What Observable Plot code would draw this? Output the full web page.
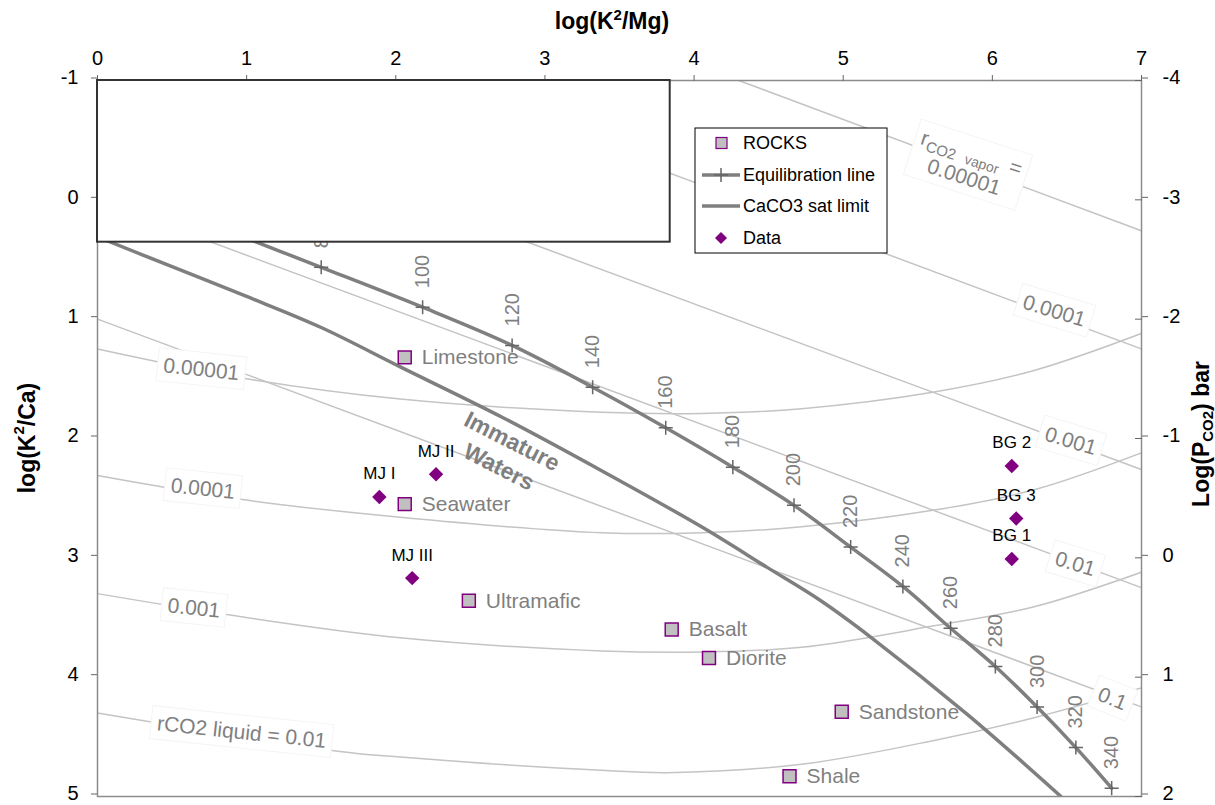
<!DOCTYPE html>
<html>
<head>
<meta charset="utf-8">
<script src="https://cdn.jsdelivr.net/npm/d3@7"></script>
<script src="https://cdn.jsdelivr.net/npm/@observablehq/plot@0.6"></script>
<style>
  body { margin: 0; background: #fff; }
  #chart { position: relative; width: 1215px; height: 805px; }
</style>
</head>
<body>
<div id="chart"></div>
<script>
// Axis ticks
const xTicks = [0, 1, 2, 3, 4, 5, 6, 7];
const yTicks = [-1, 0, 1, 2, 3, 4, 5];

// Reference rock compositions: log(K²/Mg), log(K²/Ca)
const rockNames = ["Limestone", "Seawater", "Ultramafic", "Basalt", "Diorite", "Sandstone", "Shale"];
const rockKMg = [2.06, 2.06, 2.49, 3.85, 4.10, 4.99, 4.64];
const rockKCa = [1.32, 2.55, 3.36, 3.60, 3.84, 4.29, 4.83];

// Measured water samples
const sampleNames = ["MJ I", "MJ II", "MJ III", "BG 2", "BG 3", "BG 1"];
const sampleKMg = [1.89, 2.27, 2.11, 6.13, 6.16, 6.13];
const sampleKCa = [2.49, 2.30, 3.17, 2.23, 2.67, 3.01];

// Full equilibration line, temperature (°C) marks
const eqTemps = [60, 80, 100, 120, 140, 160, 180, 200, 220, 240, 260, 280, 300, 320, 340];
const eqKMg = [0.85, 1.50, 2.18, 2.78, 3.32, 3.81, 4.26, 4.67, 5.05, 5.40, 5.72, 6.02, 6.30, 6.56, 6.80];
const eqKCa = [0.25, 0.565, 0.90, 1.22, 1.57, 1.91, 2.24, 2.56, 2.91, 3.24, 3.59, 3.91, 4.25, 4.59, 4.93];

// Calcite saturation limit
const caco3KMg = [0, 0.5, 1.0, 1.5, 2.03, 2.71, 3.38, 4.05, 4.49, 4.85, 5.19, 5.84, 6.46];
const caco3KCa = [0.31, 0.56, 0.81, 1.07, 1.40, 1.82, 2.27, 2.74, 3.08, 3.36, 3.67, 4.32, 5.0];

// CO2 vapour isolines
const vaporLevels = ["0.00001", "0.0001", "0.001", "0.01", "0.1"];
const vaporKMg = [[4.30, 7], [2.17, 7], [0, 7], [0, 7], [0, 7]];
const vaporKCa = [[-1, 0.26], [-1, 1.25], [-0.98, 2.26], [0.0, 3.25], [1.0, 4.25]];
const vaporLabelKMg = [5.84, 6.42, 6.53, 6.56, 6.81];
const vaporLabelKCa = [-0.29, 0.93, 2.02, 3.05, 4.18];

// CO2 liquid isolines
const liquidLevels = ["0.00001", "0.0001", "0.001", "0.01"];
const liquidKMg = [
  [0, 1.00, 2.03, 3.38, 4.05, 4.72, 5.61, 6.28, 7],
  [0, 0.96, 2.03, 3.38, 4.05, 4.72, 5.61, 6.28, 7],
  [0, 0.89, 2.03, 3.38, 4.05, 4.72, 5.61, 6.28, 7],
  [0, 1.61, 2.03, 3.38, 3.82, 4.72, 5.61, 6.28, 7]
];
const liquidKCa = [
  [1.25, 1.50, 1.67, 1.78, 1.79, 1.75, 1.61, 1.43, 1.12],
  [2.31, 2.51, 2.66, 2.79, 2.79, 2.74, 2.60, 2.43, 2.12],
  [3.30, 3.48, 3.67, 3.78, 3.79, 3.75, 3.57, 3.41, 3.12],
  [4.30, 4.62, 4.67, 4.78, 4.80, 4.73, 4.53, 4.34, 4.09]
];
const liquidLabelText = ["0.00001", "0.0001", "0.001", "rCO2 liquid = 0.01"];
const liquidLabelKMg = [0.70, 0.71, 0.65, 0.97];
const liquidLabelKCa = [1.42, 2.42, 3.42, 4.46];

// Field annotation
const regionText = ["Immature\nWaters"];
const regionKMg = [2.74];
const regionKCa = [2.12];

// Blank panel in the upper-left corner of the diagram
const blankPanelKMg = [0, 3.84];
const blankPanelKCa = [-1, 0.355];

// ---- tables for the marks ----
const rocks = rockNames.map((name, i) => ({name, kMg: rockKMg[i], kCa: rockKCa[i]}));
const samples = sampleNames.map((name, i) => ({name, kMg: sampleKMg[i], kCa: sampleKCa[i]}));
const eq = eqTemps.map((temp, i) => ({temp, kMg: eqKMg[i], kCa: eqKCa[i]}));
const caco3 = caco3KMg.map((kMg, i) => ({kMg, kCa: caco3KCa[i]}));
const vapor = vaporLevels.flatMap((level, i) => vaporKMg[i].map((kMg, j) => ({level, kMg, kCa: vaporKCa[i][j]})));
const liquid = liquidLevels.flatMap((level, i) => liquidKMg[i].map((kMg, j) => ({level, kMg, kCa: liquidKCa[i][j]})));
const region = regionText.map((text, i) => ({text, kMg: regionKMg[i], kCa: regionKCa[i]}));
const blankPanel = [{x1: blankPanelKMg[0], x2: blankPanelKMg[1], y1: blankPanelKCa[0], y2: blankPanelKCa[1]}];

const FONT = "'Liberation Sans', Arial, Helvetica, sans-serif";
const GREY = "#7f7f7f";
const LIGHT = "#c4c4c4";
const PURPLE = "#800080";

const chart = Plot.plot({
  width: 1215,
  height: 805,
  marginTop: 80,
  marginLeft: 97,
  marginRight: 74,
  marginBottom: 9,
  x: {domain: [0, 7]},
  y: {domain: [-1, 5], reverse: true},
  style: {fontFamily: FONT, fontSize: "20px", color: "#000", background: "#fff"},
  marks: [
    Plot.line(vapor, {x: "kMg", y: "kCa", z: "level", stroke: LIGHT, strokeWidth: 1.5, clip: true}),
    Plot.line(liquid, {x: "kMg", y: "kCa", z: "level", curve: "catmull-rom", stroke: LIGHT, strokeWidth: 1.5, clip: true}),
    Plot.line(caco3, {x: "kMg", y: "kCa", curve: "catmull-rom", stroke: GREY, strokeWidth: 3.5, clip: true}),
    Plot.line(eq, {x: "kMg", y: "kCa", curve: "catmull-rom", stroke: GREY, strokeWidth: 3.5}),
    Plot.dot(eq, {x: "kMg", y: "kCa", symbol: "plus", r: 4.6, stroke: "#666", strokeWidth: 1.5}),
    Plot.text(eq.filter(d => d.temp >= 80), {
      x: "kMg", y: "kCa", text: d => String(d.temp), rotate: -90, textAnchor: "start",
      dy: -19, fontSize: 20, fill: GREY
    }),
    Plot.text(region, {
      x: "kMg", y: "kCa", text: "text", rotate: 27, fontSize: 23, fontWeight: "bold",
      lineHeight: 1.25, fill: GREY
    }),
    Plot.dot(rocks, {x: "kMg", y: "kCa", symbol: "square", r: 7.3, fill: "#c0c0c0", stroke: PURPLE, strokeWidth: 1.5}),
    Plot.text(rocks, {x: "kMg", y: "kCa", text: "name", textAnchor: "start", dx: 17, fontSize: 21, fill: GREY}),
    Plot.dot(samples, {x: "kMg", y: "kCa", symbol: "diamond2", r: 6.5, fill: PURPLE, stroke: "none"}),
    Plot.text(samples, {x: "kMg", y: "kCa", text: "name", dy: -23, fontSize: 17, fill: "#000"}),
    Plot.frame({stroke: "#8c8c8c", strokeWidth: 1.5}),
    Plot.axisX({anchor: "top", ticks: xTicks, tickSize: 6, tickPadding: 10, label: null, stroke: "#666", tickFormat: d => String(d)}),
    Plot.axisY({anchor: "left", ticks: yTicks, tickSize: 6, tickPadding: 13, dy: -2.5, label: null, stroke: "#666", tickFormat: d => String(d)}),
    Plot.axisY({anchor: "right", ticks: yTicks, tickSize: 6, tickPadding: 15, dy: -2.5, label: null, stroke: "#666", tickFormat: d => String(d - 3)}),
    Plot.axisY({anchor: "right", ticks: yTicks, tickSize: -7, label: null, stroke: "#666", tickFormat: () => ""}),
    Plot.rect(blankPanel, {x1: "x1", x2: "x2", y1: "y1", y2: "y2", fill: "white", stroke: "#333", strokeWidth: 2})
  ]
});

document.getElementById("chart").appendChild(chart);

// ---- annotations placed through the chart's own scales ----
const xs = chart.scale("x"), ys = chart.scale("y");
const px = v => xs.apply(v), py = v => ys.apply(v);
const svg = d3.select(chart);

// Isoline label on a white box, rotated along the line
function boxedLabel(kMg, kCa, angle, build) {
  const g = svg.append("g").attr("transform", `translate(${px(kMg)},${py(kCa)}) rotate(${angle})`);
  const rect = g.append("rect");
  const tg = g.append("g").attr("font-family", FONT).attr("fill", "#808080");
  build(tg);
  const bb = tg.node().getBBox();
  rect.attr("x", bb.x - 6).attr("y", bb.y - 5).attr("width", bb.width + 12).attr("height", bb.height + 10)
    .attr("fill", "white").attr("stroke", "#f4f4f4").attr("stroke-width", 1);
}

const simple = s => tg => tg.append("text").attr("text-anchor", "middle").attr("dominant-baseline", "central")
  .attr("font-size", 21).text(s);

liquidLabelText.forEach((s, i) => boxedLabel(liquidLabelKMg[i], liquidLabelKCa[i], 6, simple(s)));

vaporLevels.forEach((s, i) => {
  if (i === 0) {
    boxedLabel(vaporLabelKMg[i], vaporLabelKCa[i], 18, tg => {
      const t1 = tg.append("text").attr("text-anchor", "middle").attr("y", -5).attr("font-size", 21);
      t1.append("tspan").text("r");
      t1.append("tspan").attr("font-size", 15).attr("dy", 5).text("CO2");
      t1.append("tspan").attr("font-size", 14).attr("dx", 10).text("vapor");
      t1.append("tspan").attr("dy", -5).attr("dx", 10).text("=");
      tg.append("text").attr("text-anchor", "middle").attr("y", 20).attr("font-size", 21).text(s);
    });
  } else {
    boxedLabel(vaporLabelKMg[i], vaporLabelKCa[i], i === 4 ? 22 : 17, simple(s));
  }
});

// Axis titles
const titles = svg.append("g").attr("font-family", FONT).attr("font-weight", "bold").attr("font-size", 23).attr("fill", "#000");
const titleTop = titles.append("text").attr("x", 612).attr("y", 29).attr("text-anchor", "middle");
titleTop.append("tspan").text("log(K");
titleTop.append("tspan").attr("font-size", 15).attr("dy", -9).text("2");
titleTop.append("tspan").attr("dy", 9).text("/Mg)");

const titleLeft = titles.append("text").attr("transform", "translate(27,438) rotate(-90)")
  .attr("text-anchor", "middle").attr("dominant-baseline", "central");
titleLeft.append("tspan").text("log(K");
titleLeft.append("tspan").attr("font-size", 15).attr("dy", -9).text("2");
titleLeft.append("tspan").attr("dy", 9).text("/Ca)");

const titleRight = titles.append("text").attr("transform", "translate(1201,434) rotate(-90)")
  .attr("text-anchor", "middle").attr("dominant-baseline", "central");
titleRight.append("tspan").text("Log(P");
titleRight.append("tspan").attr("font-size", 15).attr("dy", 6).text("CO2");
titleRight.append("tspan").attr("dy", -6).text(") bar");

// Legend
const lg = svg.append("g").attr("font-family", FONT).attr("font-size", 18).attr("fill", "#000");
lg.append("rect").attr("x", 695).attr("y", 128).attr("width", 192).attr("height", 125)
  .attr("fill", "white").attr("stroke", "#000").attr("stroke-width", 1);
const rows = [143, 175, 206, 238];
lg.append("rect").attr("x", 716).attr("y", rows[0] - 5.5).attr("width", 11).attr("height", 11)
  .attr("fill", "#c0c0c0").attr("stroke", PURPLE).attr("stroke-width", 1.2);
lg.append("line").attr("x1", 702).attr("x2", 740).attr("y1", rows[1]).attr("y2", rows[1]).attr("stroke", GREY).attr("stroke-width", 3.5);
lg.append("path").attr("d", `M714,${rows[1]}h14M721,${rows[1] - 7}v14`).attr("stroke", "#666").attr("stroke-width", 1.5);
lg.append("line").attr("x1", 702).attr("x2", 740).attr("y1", rows[2]).attr("y2", rows[2]).attr("stroke", GREY).attr("stroke-width", 3.5);
lg.append("path").attr("d", `M721,${rows[3] - 6}l6,6l-6,6l-6,-6z`).attr("fill", PURPLE);
["ROCKS", "Equilibration line", "CaCO3 sat limit", "Data"].forEach((s, i) =>
  lg.append("text").attr("x", 743).attr("y", rows[i]).attr("text-anchor", "start")
    .attr("dominant-baseline", "central").text(s));
</script>
</body>
</html>
